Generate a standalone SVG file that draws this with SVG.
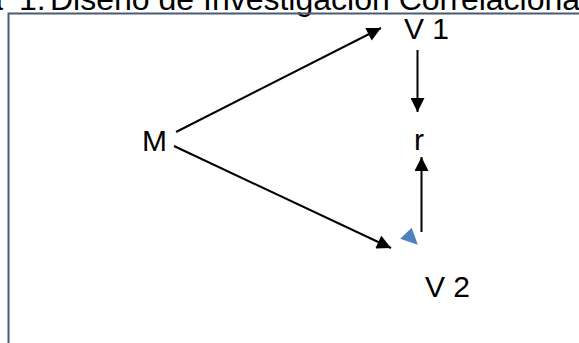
<svg xmlns="http://www.w3.org/2000/svg" width="579" height="343" viewBox="0 0 579 343">
<style>
.t{font-family:"Liberation Sans",Arial,sans-serif;font-size:30px;fill:#000}
.h{font-family:"Liberation Sans",Arial,sans-serif;font-size:32px;fill:#000}
.c{stroke:#000;stroke-width:2;fill:none}
</style>
<defs>
<marker id="ah" viewBox="0 0 10 10" refX="10" refY="5" markerUnits="userSpaceOnUse" markerWidth="15" markerHeight="14" orient="auto">
<path d="M0,0 L10,5 L0,10 z" fill="#000"/>
</marker>
</defs>
<rect width="579" height="343" fill="#fff"/>
<text class="h" y="10"><tspan x="3" text-anchor="end">Figura</tspan><tspan x="19">1.</tspan><tspan x="50">Diseño de Investigación Correlacional</tspan></text>
<rect x="8.5" y="13.5" width="700" height="500" fill="none" stroke="#4a5b75" stroke-width="2"/>
<g id="connectors">
<line class="c" x1="176" y1="132" x2="381" y2="28" marker-end="url(#ah)"/>
<line class="c" x1="174" y1="146" x2="391" y2="248" marker-end="url(#ah)"/>
<line class="c" x1="417.5" y1="50" x2="417.5" y2="112" marker-end="url(#ah)"/>
<line class="c" x1="421.5" y1="232" x2="421.5" y2="157" marker-end="url(#ah)"/>
<polygon points="400.2,238.8 411.7,227.8 417.8,244.8" fill="#4f81bd"/>
</g>
<g id="M"><text class="t" x="142" y="151">M</text></g>
<g id="V1"><text class="t" x="404" y="39">V 1</text></g>
<g id="r"><text class="t" x="414" y="150">r</text></g>
<g id="V2"><text class="t" x="425" y="297">V 2</text></g>
</svg>
